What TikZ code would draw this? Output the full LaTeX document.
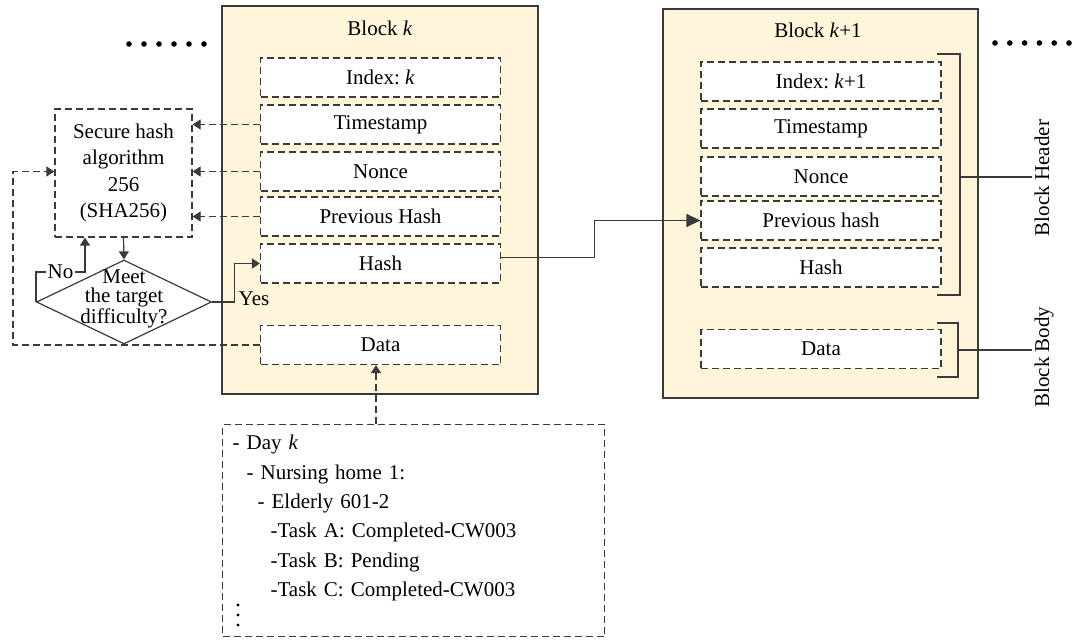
\documentclass[tikz,border=0pt]{standalone}
\usepackage{fontspec}
\setmainfont{Liberation Serif}
\usepackage{xcolor}
\usetikzlibrary{positioning, arrows.meta, shapes.geometric}
\definecolor{blockfill}{HTML}{FFF5DB}
\definecolor{edge}{HTML}{3A3A3A}
\frenchspacing

\begin{document}
\begin{tikzpicture}[
    x=0.5pt, y=-0.5pt,
    font=\fontsize{10.5}{12.6}\selectfont,
    block/.style={draw=edge, fill=blockfill, line width=0.6pt, inner sep=0pt},
    field/.style={draw=edge, fill=white, dash pattern=on 3.5pt off 2pt, line width=0.6pt,
                  minimum width=120pt, minimum height=19.5pt, inner sep=0pt},
    decision/.style={draw=edge, diamond, line width=0.6pt, minimum width=87.5pt,
                     minimum height=42pt, inner sep=0pt},
    link/.style={draw=edge, line width=0.6pt},
    dlink/.style={draw=edge, line width=0.6pt, dash pattern=on 3.5pt off 2pt},
    tipsmall/.style={-{Triangle[length=4pt, width=5pt]}},
    tipbig/.style={-{Triangle[length=7pt, width=6.5pt]}},
    dots/.style={fill=black, circle, inner sep=0pt, minimum size=2.8pt},
]
\useasboundingbox (0,0) rectangle (1074,641);

% block k
\node[block, minimum width=158pt, minimum height=194pt] (blockk) at (380,200) {};
\node (titlek) at (380,28) {Block \textit{k}};
\node[field] (idxk)   at (380.5,77.5)  {Index: \textit{k}};
\node[field] (timek)  at (380.5,124.5) {Timestamp};
\node[field] (noncek) at (380.5,171.5) {Nonce};
\node[field] (prevk)  at (380.5,216.5) {Previous Hash};
\node[field] (hashk)  at (380.5,263.5) {Hash};
\node[field] (datak)  at (380.5,345)   {Data};

% block k+1
\node[block, minimum width=157.5pt, minimum height=194.5pt] (blockk1) at (820.5,203.5) {};
\node (titlek1) at (818,30) {Block \textit{k}+1};
\node[field] (idxk1)   at (821,81.5)  {Index: \textit{k}+1};
\node[field] (timek1)  at (821,128.5) {Timestamp};
\node[field] (noncek1) at (821,176.5) {Nonce};
\node[field] (prevk1)  at (821,220.5) {Previous hash};
\node[field] (hashk1)  at (821,267.5) {Hash};
\node[field] (datak1)  at (821,349)   {Data};

% hashing loop
\node[field, minimum width=68.5pt, minimum height=64pt, align=center,
      font=\fontsize{10.5}{13.3}\selectfont] (sha) at (123.5,173)
    {Secure hash\\algorithm\\256\\(SHA256)};
\node[decision] (meet) at (124,302) {};
\node[align=center, inner sep=0pt, font=\fontsize{10.5}{9.4}\selectfont] (meettext) at (124,299)
    {Meet\\the target\\difficulty?};

\draw[dlink, tipsmall] (timek.west) -- (timek.west -| sha.east);
\draw[dlink, tipsmall] (noncek.west) -- (noncek.west -| sha.east);
\draw[dlink, tipsmall] (prevk.west) -- (prevk.west -| sha.east);
\draw[link, tipsmall] (sha.south) -- (meet.north);

\coordinate (nobend) at (85,272);
\draw[link, tipsmall] (meet.west) |- node[pos=0.75, fill=white, inner sep=1pt] {No} (nobend)
    -- (nobend |- sha.south);
\draw[link, tipsmall] (meet.east) -- ++(22,0) node[anchor=west, inner sep=2pt, yshift=1.5pt] {Yes}
    |- (hashk.west);

\coordinate (loopleft) at (13,0);
\draw[dlink, tipsmall] (datak.west) -- (datak.west -| loopleft) |- (sha.west |- noncek.west);

% chain
\draw[link, tipbig] ([yshift=3pt]hashk.east) -- ++(93,0) |- (prevk1.west);

% header / body brackets
\coordinate (hdrmid) at (960,177);
\coordinate (bodymid) at (958,350);
\draw[link] (937,54) -- (960,54) -- (960,295) -- (937,295);
\draw[link] (937,323) -- (958,323) -- (958,377) -- (937,377);
\node[rotate=90, inner sep=1pt] (hdrlabel) at (1042,178) {Block Header};
\node[rotate=90, inner sep=1pt] (bodylabel) at (1044,357) {Block Body};
\draw[link] (hdrmid) -- (hdrmid -| hdrlabel.north);
\draw[link] (bodymid) -- (bodymid -| bodylabel.north);

% data of day k
\node[field, anchor=north west, minimum width=191pt, minimum height=106pt,
      text width=181pt, inner xsep=5pt, align=left,
      font=\fontsize{10.5}{14.7}\selectfont] (daylog) at (222,424)
    {- Day \textit{k}\\
     \hspace*{7pt}- Nursing home 1:\\
     \hspace*{12.5pt}- Elderly 601-2\\
     \hspace*{19pt}-Task A: Completed-CW003\\
     \hspace*{19pt}-Task B: Pending\\
     \hspace*{19pt}-Task C: Completed-CW003\\
     \mbox{}};
\foreach \y in {605,615,625}
  \fill[black] (238,\y) circle (0.8pt);
\coordinate (feedx) at (376,0);
\draw[dlink, line width=1pt, tipsmall] (daylog.north -| feedx) -- (datak.south -| feedx);

% ellipsis dots
\foreach \i in {0,...,5} {
  \node[dots] (ldot\i) at (129+15*\i,44) {};
  \node[dots] (rdot\i) at (995+14.8*\i,43) {};
}
\end{tikzpicture}
\end{document}
